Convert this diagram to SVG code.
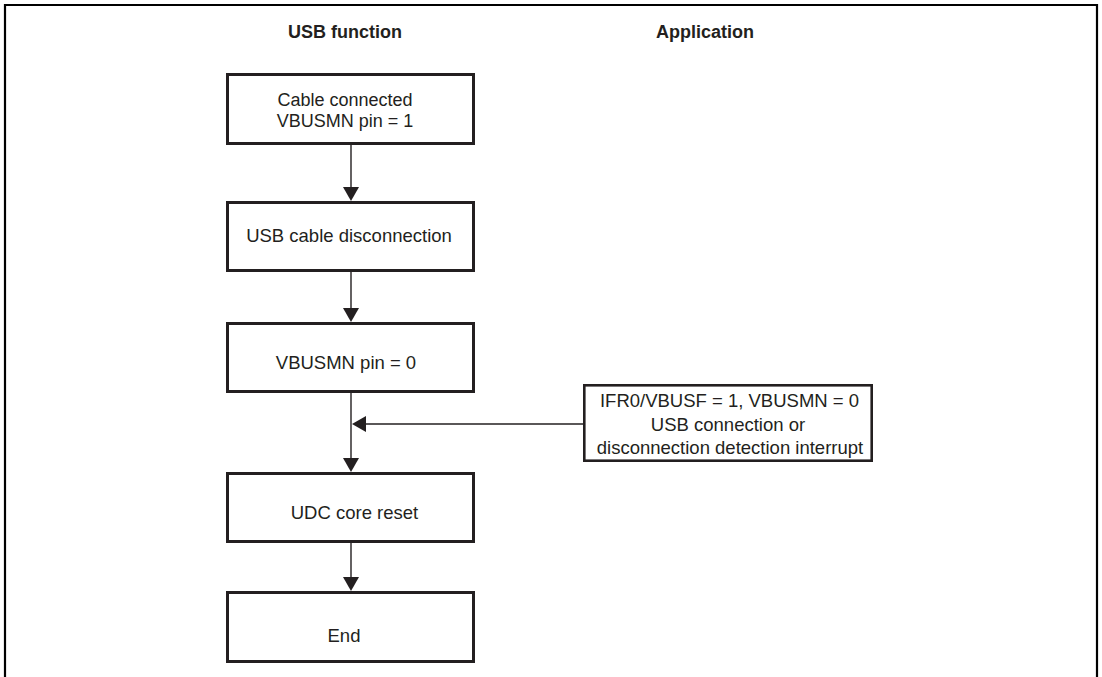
<svg xmlns="http://www.w3.org/2000/svg" width="1102" height="677" viewBox="0 0 1102 677">
<style>
.box{fill:#fff;stroke:#231f20;stroke-width:3}
.sbox{fill:#fff;stroke:#231f20;stroke-width:2.6}
.t{font-family:"Liberation Sans",Arial,sans-serif;font-size:18.5px;fill:#231f20;text-anchor:middle}
.h{font-family:"Liberation Sans",Arial,sans-serif;font-size:18px;font-weight:bold;fill:#231f20;text-anchor:middle}
.ln{stroke:#231f20;stroke-width:1.4;fill:none}
.ah{fill:#231f20}
</style>
<rect width="1102" height="677" fill="#fff"/>
<path d="M5,677 V5 H1097 V677" fill="none" stroke="#000" stroke-width="2.2"/>
<g id="headers">
<text class="h" x="345" y="38">USB function</text>
<text class="h" x="705" y="38">Application</text>
</g>
<g id="connectors">
<line class="ln" x1="351" y1="145" x2="351" y2="190"/>
<polygon class="ah" points="343,187 359,187 351,201"/>
<line class="ln" x1="351" y1="272" x2="351" y2="312"/>
<polygon class="ah" points="343,308 359,308 351,322"/>
<line class="ln" x1="351" y1="393" x2="351" y2="462"/>
<polygon class="ah" points="343,458 359,458 351,472"/>
<line class="ln" x1="583" y1="424" x2="362" y2="424"/>
<polygon class="ah" points="352,424 366,416 366,432"/>
<line class="ln" x1="351" y1="543" x2="351" y2="580"/>
<polygon class="ah" points="343,577 359,577 351,591"/>
</g>
<g id="n1">
<rect class="box" x="227.5" y="74.5" width="246" height="69"/>
<text class="t" x="345" y="105.5" style="font-size:18px">Cable connected</text>
<text class="t" x="345" y="126.5" style="font-size:18px">VBUSMN pin = 1</text>
</g>
<g id="n2">
<rect class="box" x="227.5" y="202.5" width="246" height="68"/>
<text class="t" x="349" y="242">USB cable disconnection</text>
</g>
<g id="n3">
<rect class="box" x="227.5" y="323.5" width="246" height="68"/>
<text class="t" x="346" y="369">VBUSMN pin = 0</text>
</g>
<g id="n4">
<rect class="box" x="227.5" y="473.5" width="246" height="68"/>
<text class="t" x="354.5" y="519">UDC core reset</text>
</g>
<g id="n5">
<rect class="box" x="227.5" y="592.5" width="246" height="69"/>
<text class="t" x="344" y="642">End</text>
</g>
<g id="n6">
<rect class="sbox" x="584.3" y="385.3" width="287.4" height="75.4"/>
<text class="t" x="729.5" y="407">IFR0/VBUSF = 1, VBUSMN = 0</text>
<text class="t" x="728" y="430.5">USB connection or</text>
<text class="t" x="730" y="453.5">disconnection detection interrupt</text>
</g>
</svg>
